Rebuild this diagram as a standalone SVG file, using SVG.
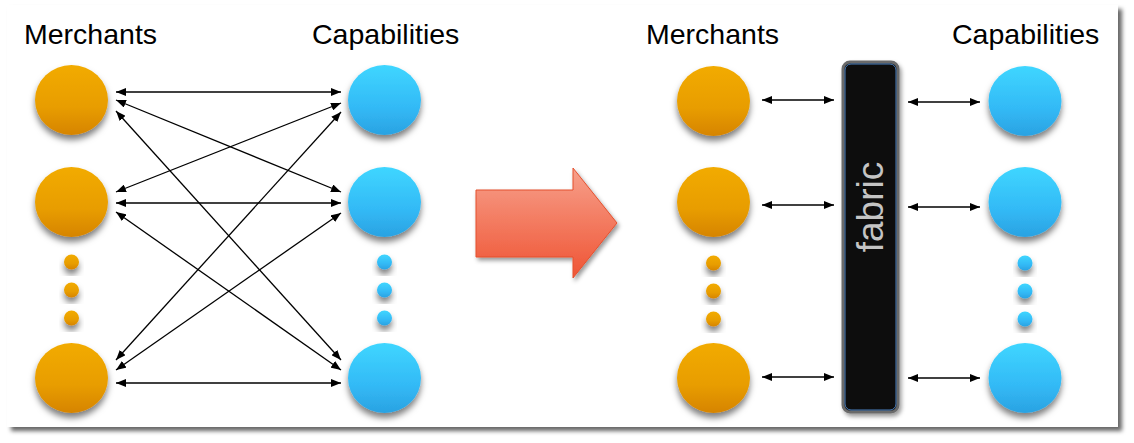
<svg xmlns="http://www.w3.org/2000/svg" width="1134" height="443" viewBox="0 0 1134 443">
<defs>
<linearGradient id="gOr" x1="0" y1="0" x2="0" y2="1"><stop offset="0" stop-color="#f2ab00"/><stop offset="0.6" stop-color="#e89d00"/><stop offset="1" stop-color="#d68400"/></linearGradient>
<linearGradient id="gBl" x1="0" y1="0" x2="0" y2="1"><stop offset="0" stop-color="#3fd6ff"/><stop offset="0.6" stop-color="#33baf6"/><stop offset="1" stop-color="#2aa2e2"/></linearGradient>
<linearGradient id="gRed" x1="0" y1="0" x2="0" y2="1"><stop offset="0" stop-color="#f7a08b"/><stop offset="1" stop-color="#ef5434"/></linearGradient>
<filter id="panelSh" x="-5%" y="-5%" width="110%" height="115%"><feDropShadow dx="4" dy="4" stdDeviation="2" flood-color="#000" flood-opacity="0.6"/></filter>
<filter id="ballSh" x="-30%" y="-30%" width="160%" height="170%"><feDropShadow dx="0" dy="5" stdDeviation="3" flood-color="#000" flood-opacity="0.5"/></filter>
<filter id="boxSh" x="-30%" y="-10%" width="160%" height="120%"><feDropShadow dx="2" dy="3" stdDeviation="2" flood-color="#000" flood-opacity="0.4"/></filter>
<marker id="ah" viewBox="0 0 10 8" refX="10" refY="4" markerWidth="10" markerHeight="8" markerUnits="userSpaceOnUse" orient="auto-start-reverse"><path d="M0,0 L10,4 L0,8 z" fill="#000"/></marker>
</defs>
<style>
.lbl{font-family:"Liberation Sans",Arial,sans-serif;font-size:28.5px;fill:#000}
.or{fill:url(#gOr);filter:url(#ballSh)}
.bl{fill:url(#gBl);filter:url(#ballSh)}
.conn line{stroke:#000;stroke-width:1.3;marker-start:url(#ah);marker-end:url(#ah)}
</style>
<rect x="7" y="5" width="1111" height="422" fill="#fff" filter="url(#panelSh)"/>
<g id="labels">
<text class="lbl" x="24" y="44">Merchants</text>
<text class="lbl" x="312" y="44">Capabilities</text>
<text class="lbl" x="646" y="44">Merchants</text>
<text class="lbl" x="952" y="44">Capabilities</text>
</g>
<g id="left-merchants">
<ellipse id="lm1" class="or" cx="71.5" cy="100" rx="36.5" ry="35"/>
<ellipse id="lm2" class="or" cx="71.5" cy="202" rx="36.5" ry="35"/>
<ellipse id="lm3" class="or" cx="71.5" cy="378" rx="36.5" ry="35"/>
<circle class="or" cx="71.5" cy="262" r="7.5"/>
<circle class="or" cx="71.5" cy="290" r="7.5"/>
<circle class="or" cx="71.5" cy="318" r="7.5"/>
</g>
<g id="left-capabilities">
<ellipse id="lc1" class="bl" cx="384.5" cy="100" rx="36.5" ry="35"/>
<ellipse id="lc2" class="bl" cx="384.5" cy="202" rx="36.5" ry="35"/>
<ellipse id="lc3" class="bl" cx="384.5" cy="378" rx="36.5" ry="35"/>
<circle class="bl" cx="384.5" cy="262" r="7.5"/>
<circle class="bl" cx="384.5" cy="290" r="7.5"/>
<circle class="bl" cx="384.5" cy="318" r="7.5"/>
</g>
<g id="transform-arrow">
<polygon points="476,190 573,190 573,168 617,223 573,278 573,257 476,257" fill="url(#gRed)" stroke="#e4502e" stroke-width="1" filter="url(#boxSh)"/>
</g>
<g id="right-merchants">
<ellipse id="rm1" class="or" cx="713.5" cy="101" rx="36.5" ry="35"/>
<ellipse id="rm2" class="or" cx="713.5" cy="202" rx="36.5" ry="35"/>
<ellipse id="rm3" class="or" cx="713.5" cy="378" rx="36.5" ry="35"/>
<circle class="or" cx="713.5" cy="263" r="7.5"/>
<circle class="or" cx="713.5" cy="291" r="7.5"/>
<circle class="or" cx="713.5" cy="319" r="7.5"/>
</g>
<g id="fabric">
<rect x="843" y="62" width="55" height="350" rx="7" fill="#0e0e0e" stroke="#6a6a6a" stroke-width="3" filter="url(#boxSh)"/>
<rect x="845" y="64" width="51" height="346" rx="6" fill="none" stroke="#4a80c0" stroke-width="1"/>
<text x="883" y="207" transform="rotate(-90 883 207)" text-anchor="middle" font-family="Liberation Sans,Arial,sans-serif" font-size="37" fill="#c4c4c4">fabric</text>
</g>
<g id="right-capabilities">
<ellipse id="rc1" class="bl" cx="1025" cy="101" rx="36.5" ry="35"/>
<ellipse id="rc2" class="bl" cx="1025" cy="202" rx="36.5" ry="35"/>
<ellipse id="rc3" class="bl" cx="1025" cy="378" rx="36.5" ry="35"/>
<circle class="bl" cx="1025" cy="263" r="7.5"/>
<circle class="bl" cx="1025" cy="291" r="7.5"/>
<circle class="bl" cx="1025" cy="319" r="7.5"/>
</g>
<g id="connectors" class="conn">
<line x1="116" y1="92" x2="341" y2="92"/>
<line x1="116" y1="100" x2="341" y2="192"/>
<line x1="116" y1="111" x2="341" y2="360"/>
<line x1="341" y1="103" x2="116" y2="192"/>
<line x1="341" y1="112" x2="116" y2="360"/>
<line x1="116" y1="203" x2="341" y2="203"/>
<line x1="116" y1="212" x2="341" y2="370"/>
<line x1="341" y1="213" x2="116" y2="370"/>
<line x1="116" y1="383" x2="341" y2="383"/>
<line x1="762" y1="100" x2="834" y2="100"/>
<line x1="762" y1="205" x2="834" y2="205"/>
<line x1="762" y1="377" x2="834" y2="377"/>
<line x1="908" y1="102" x2="980" y2="102"/>
<line x1="908" y1="207" x2="980" y2="207"/>
<line x1="908" y1="378" x2="980" y2="378"/>
</g>
</svg>
